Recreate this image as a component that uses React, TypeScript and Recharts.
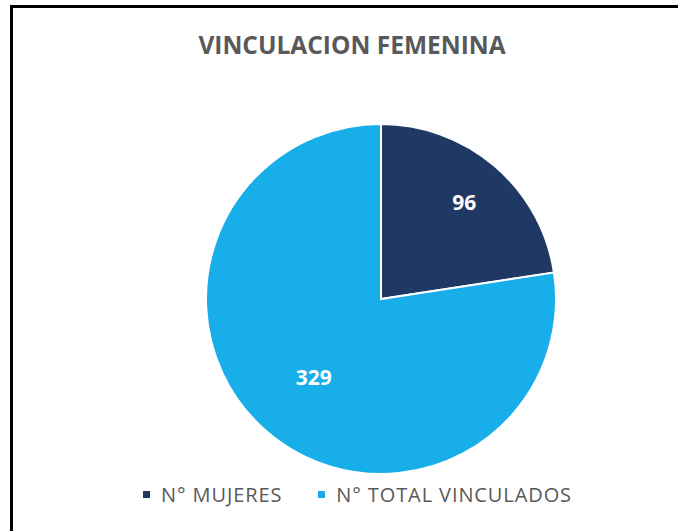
import { PieChart, Pie, Cell, Legend } from 'recharts'

const categories = ['N° MUJERES', 'N° TOTAL VINCULADOS']
const values = [96, 329]
const colors = ['#1F3864', '#17AEEA']
const title = 'VINCULACION FEMENINA'

// label distance from the centre, as a share of the radius, per slice
const LABEL_R = [0.73, 0.59]

const data = categories.map((name, i) => ({ name, value: values[i] }))

const RADIAN = Math.PI / 180

const renderLabel = (p: any) => {
  const { cx, cy, midAngle, outerRadius, index, value } = p
  const r = outerRadius * LABEL_R[index]
  const x = cx + r * Math.cos(-midAngle * RADIAN)
  const y = cy + r * Math.sin(-midAngle * RADIAN)
  return (
    <text x={x} y={y} fill="#fff" textAnchor="middle" dominantBaseline="central"
      fontFamily="Open Sans" fontWeight={700} fontSize={21}>
      {value}
    </text>
  )
}

const LegendContent = ({ payload }: { payload?: any[] }) => (
  <div style={{ display: 'flex', alignItems: 'center', fontFamily: 'Open Sans', fontSize: 20,
    letterSpacing: 0.9, color: '#595959', whiteSpace: 'nowrap' }}>
    {(payload ?? []).map((e, i) => (
      <div key={i} style={{ display: 'flex', alignItems: 'center', marginRight: 36 }}>
        <span style={{ width: 7, height: 7, background: e.color, marginRight: 11, display: 'inline-block' }} />
        <span>{e.value}</span>
      </div>
    ))}
  </div>
)

export default function App() {
  return (
    <div style={{ position: 'fixed', top: 0, left: 0, width: 678, height: 531, background: '#fff', overflow: 'hidden' }}>
      {/* frame, only top and left edges fall inside the picture */}
      <div style={{ position: 'absolute', top: 5, left: 10, width: 700, height: 600,
        borderTop: '3px solid #000', borderLeft: '3px solid #000' }} />
      <div style={{ position: 'absolute', top: 28, left: 0, width: 704, textAlign: 'center',
        fontFamily: 'Open Sans', fontWeight: 700, fontSize: 24.5, color: '#595959' }}>
        {title}
      </div>
      <div style={{ position: 'absolute', top: 0, left: 0 }}>
        <PieChart width={678} height={531} margin={{ top: 0, right: 0, bottom: 0, left: 0 }}>
          <Pie
            data={data}
            dataKey="value"
            nameKey="name"
            cx={381}
            cy={299}
            outerRadius={175}
            startAngle={90}
            endAngle={-270}
            stroke="#fff"
            strokeWidth={2}
            label={renderLabel}
            labelLine={false}
            isAnimationActive={false}
          >
            {data.map((d, i) => <Cell key={d.name} fill={colors[i]} />)}
          </Pie>
          <Legend content={<LegendContent />}
            wrapperStyle={{ position: 'absolute', top: 481, left: 143, width: 520, height: 28 }} />
        </PieChart>
      </div>
    </div>
  )
}
